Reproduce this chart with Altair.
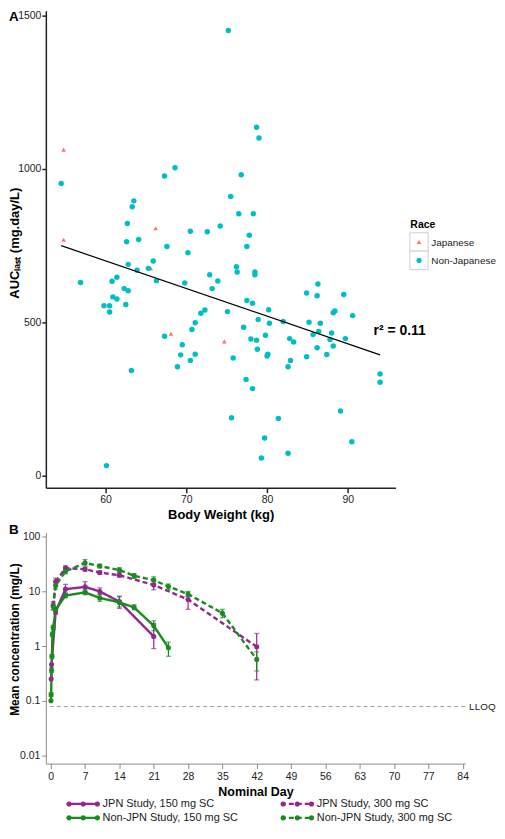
import altair as alt
import pandas as pd

# ---------------- Panel A data ----------------
race_labels = ["Japanese", "Non-Japanese"]
race_colors = ["#F8766D", "#00BFC4"]
race_shapes = ["triangle-up", "circle"]

jpn_weight = [54.8, 54.8, 66.2, 65.6, 68.1, 74.7]
jpn_auc = [1062, 768, 806, 675, 462, 437]

nonjpn_weight = [75.2, 54.5, 62.7, 62.6, 63.3, 63.5, 64.1, 62.8, 65.9, 67.3, 68.6, 67.6,
                 70.5, 70.2, 72.6, 74.2, 75.5, 76.8, 76.5, 78.3, 77.8, 77.5, 78.7, 79.0,
                 56.9, 59.8, 60.1, 60.8, 61.4, 60.9, 61.4, 60.5, 60.5, 62.3, 62.8, 62.5,
                 63.2, 63.9, 65.3, 66.3, 67.3, 69.5, 69.3, 68.9, 70.5, 70.7, 71.1, 71.1,
                 69.8, 71.8, 72.3, 72.9, 73.2, 73.9, 75.1, 75.8, 75.6, 76.2, 76.3, 77.4,
                 77.5, 78.2, 77.1, 78.0, 78.7, 78.8, 78.2, 78.5, 78.5, 78.9, 79.3, 79.7,
                 80.2, 80.3, 79.8, 80.1, 80.0, 82.0, 81.4, 82.6, 82.8, 83.3, 82.9, 82.6,
                 84.9, 86.3, 86.2, 85.2, 85.7, 86.6, 86.4, 86.2, 84.9, 87.4, 88.0, 87.8,
                 88.2, 88.2, 88.4, 89.5, 90.6, 89.7, 89.1, 90.5, 94.0, 94.0]
nonjpn_auc = [1450, 952, 821, 762, 876, 895, 769, 688, 699, 976, 1003, 746,
              796, 726, 794, 813, 909, 980, 853, 853, 783, 746, 1135, 1100,
              629, 553, 32, 633, 646, 582, 575, 553, 533, 609, 602, 557,
              342, 669, 675, 635, 454, 426, 393, 354, 375, 476, 498, 395,
              627, 529, 539, 654, 609, 634, 534, 383, 188, 680, 663, 313,
              570, 561, 483, 445, 441, 411, 283, 663, 654, 508, 57, 122,
              540, 496, 457, 395, 389, 502, 186, 72, 446, 435, 375, 354,
              595, 624, 586, 499, 459, 496, 469, 416, 387, 394, 464, 443,
              422, 530, 536, 590, 521, 446, 210, 110, 331, 304]

fit_intercept = 1240.2
fit_slope = -9.013
r2_label = "r\u00b2 = 0.11"

x_ticks_a = [60, 70, 80, 90]
y_ticks_a = [0, 500, 1000, 1500]

# ---------------- Panel B data ----------------
series_names = ["JPN Study, 150 mg SC", "JPN Study, 300 mg SC",
                "Non-JPN Study, 150 mg SC", "Non-JPN Study, 300 mg SC"]
series_colors = ["#93278F", "#93278F", "#1B8A22", "#1B8A22"]
series_dash = [[1, 0], [5, 3], [1, 0], [5, 3]]

days_jpn150 = [0.08, 0.17, 1, 3, 7, 10, 14, 21]
conc_jpn150 = [0.25, 0.46, 4.3, 11.0, 12.1, 10.0, 6.5, 1.5]
lo_jpn150 = [0.25, 0.46, 3.8, 9.3, 10.0, 8.7, 4.9, 0.9]
hi_jpn150 = [0.25, 0.46, 4.9, 13.5, 15.1, 11.6, 8.2, 2.6]

days_jpn300 = [0.5, 1, 3, 7, 10, 14, 21, 28, 42]
conc_jpn300 = [5.5, 15.1, 26.8, 25.5, 22.1, 19.8, 13.1, 7.1, 0.97]
lo_jpn300 = [4.6, 13.0, 24.5, 23.5, 20.5, 18.3, 10.7, 4.7, 0.24]
hi_jpn300 = [6.5, 17.5, 29.5, 27.7, 23.8, 21.5, 15.1, 8.2, 1.7]

days_njp150 = [0.04, 0.08, 0.17, 0.25, 0.33, 0.5, 1, 3, 7, 10, 14, 17, 21, 24]
conc_njp150 = [0.10, 0.13, 0.36, 0.65, 1.65, 2.2, 4.6, 8.4, 9.6, 7.6, 6.3, 5.1, 2.35, 0.93]
lo_njp150 = [0.10, 0.12, 0.33, 0.60, 1.5, 2.0, 4.0, 7.6, 8.7, 6.6, 5.2, 4.6, 1.9, 0.65]
hi_njp150 = [0.10, 0.14, 0.40, 0.70, 1.8, 2.4, 5.2, 9.2, 10.7, 8.7, 7.9, 5.7, 2.9, 1.18]

days_njp300 = [0.5, 1, 3, 7, 10, 14, 17, 21, 24, 28, 35, 42]
conc_njp300 = [5.3, 12.8, 23.3, 33.3, 29.1, 24.7, 19.3, 16.1, 12.3, 8.96, 4.0, 0.57]
lo_njp300 = [4.6, 11.0, 21.0, 29.1, 27.0, 22.1, 17.3, 14.1, 10.7, 8.0, 3.3, 0.35]
hi_njp300 = [6.1, 15.0, 26.0, 38.2, 31.5, 27.2, 21.2, 18.5, 13.7, 10.0, 4.7, 0.78]

lloq = 0.078
x_ticks_b = list(range(0, 85, 7))
y_ticks_b = [0.01, 0.1, 1, 10, 100]

FONT = "Liberation Sans"
DARK = "#222222"

# ================= Panel A =================
WA, HA = 351, 479
df_a = pd.DataFrame({
    "weight": jpn_weight + nonjpn_weight,
    "auc": jpn_auc + nonjpn_auc,
    "race": [race_labels[0]] * len(jpn_weight) + [race_labels[1]] * len(nonjpn_weight),
})
xa = alt.X("weight:Q", scale=alt.Scale(domain=[52.6, 95.9], nice=False, zero=False),
           axis=alt.Axis(values=x_ticks_a, title="Body Weight (kg)", grid=False, labelOverlap=False,
                         tickCount=10,
                         domainColor=DARK, domainWidth=1.5, tickColor=DARK, tickWidth=1.5,
                         tickSize=5, labelFontSize=10.5, labelColor=DARK, labelPadding=2,
                         titleFontSize=13, titleFontWeight="bold", titleColor="#000",
                         titlePadding=3))
ya = alt.Y("auc:Q", scale=alt.Scale(domain=[-40, 1515], nice=False, zero=False),
           axis=alt.Axis(values=y_ticks_a, format="d", title="AUC\u2097\u2090\u209b\u209c (mg.day/L)",
                         grid=False, labelOverlap=False, tickCount=10,
                         domainColor=DARK, domainWidth=1.5, tickColor=DARK, tickWidth=1.5,
                         tickSize=4, labelFontSize=10.5, labelColor=DARK, labelPadding=1,
                         titleFontSize=13, titleFontWeight="bold", titleColor="#000",
                         titleX=-31, titleY=233, titleAngle=270, titleBaseline="middle",
                         titleAlign="center"))

points_a = alt.Chart(df_a).mark_point(filled=True, opacity=1).encode(
    x=xa, y=ya,
    color=alt.Color("race:N", scale=alt.Scale(domain=race_labels, range=race_colors), legend=None),
    shape=alt.Shape("race:N", scale=alt.Scale(domain=race_labels, range=race_shapes), legend=None),
    size=alt.Size("race:N", scale=alt.Scale(domain=race_labels, range=[22, 30]), legend=None),
)

all_w = jpn_weight + nonjpn_weight
fit_x = [min(all_w), max(all_w)]
df_fit = pd.DataFrame({"weight": fit_x, "auc": [fit_intercept + fit_slope * w for w in fit_x]})
fit_line = alt.Chart(df_fit).mark_line(color="black", strokeWidth=1.2).encode(x="weight:Q", y="auc:Q")

dummy = pd.DataFrame({"d": [0]})
r2 = alt.Chart(dummy).mark_text(text=r2_label, fontSize=14, fontWeight="bold", align="left",
                                baseline="middle", color="#000").encode(
    x=alt.value(329), y=alt.value(322))
label_a = alt.Chart(dummy).mark_text(text="A", fontSize=13.5, fontWeight="bold", align="left",
                                     baseline="top", color="#000").encode(
    x=alt.value(-37), y=alt.value(-1))

# manual race legend
LX = 365.5
leg_title = alt.Chart(dummy).mark_text(text="Race", fontSize=10.5, fontWeight="bold", align="left",
                                       baseline="middle", color="#000").encode(
    x=alt.value(LX + 0.5), y=alt.value(215))
leg_layers = [leg_title]
for i, (lab, col, shp) in enumerate(zip(race_labels, race_colors, race_shapes)):
    top = 223 + i * 18.5
    leg_layers.append(alt.Chart(dummy).mark_rect(fill="white", stroke="#cfcfcf", strokeWidth=1).encode(
        x=alt.value(LX), x2=alt.value(LX + 18.4), y=alt.value(top), y2=alt.value(top + 18.5)))
    leg_layers.append(alt.Chart(dummy).mark_point(filled=True, opacity=1, shape=shp, color=col,
                                                  size=22 if i == 0 else 26).encode(
        x=alt.value(LX + 9.2), y=alt.value(top + 9.25)))
    leg_layers.append(alt.Chart(dummy).mark_text(text=lab, fontSize=10, align="left", baseline="middle",
                                                 color=DARK).encode(
        x=alt.value(LX + 21.5), y=alt.value(top + 10)))

panel_a = alt.layer(points_a, fit_line, r2, label_a, *leg_layers).properties(width=WA, height=HA)

# ================= Panel B =================
WB, HB = 421, 232
rows = []
for name, d, c, lo, hi in [
    (series_names[0], days_jpn150, conc_jpn150, lo_jpn150, hi_jpn150),
    (series_names[1], days_jpn300, conc_jpn300, lo_jpn300, hi_jpn300),
    (series_names[2], days_njp150, conc_njp150, lo_njp150, hi_njp150),
    (series_names[3], days_njp300, conc_njp300, lo_njp300, hi_njp300),
]:
    for dd, cc, l, h in zip(d, c, lo, hi):
        rows.append({"series": name, "day": dd, "conc": cc, "lo": l, "hi": h})
df_b = pd.DataFrame(rows)
df_err = df_b[df_b["hi"] > df_b["lo"]]

GREY = "#8a8a8a"
xb_scale = alt.Scale(domain=[-1, 84.5], nice=False, zero=False)
yb_scale = alt.Scale(type="log", domain=[0.00706, 119.7], nice=False)
xb = alt.X("day:Q", scale=xb_scale,
           axis=alt.Axis(values=x_ticks_b, title="Nominal Day", grid=False, labelOverlap=False,
                         tickCount=30,
                         domainColor=GREY, domainWidth=1, tickColor=GREY, tickSize=5,
                         labelFontSize=10.5, labelColor=DARK, labelPadding=3, titleFontSize=12.5,
                         titleFontWeight="bold", titleColor="#000", titlePadding=4))
yb = alt.Y("conc:Q", scale=yb_scale,
           axis=alt.Axis(values=y_ticks_b, format="~g", title="Mean concentration (mg/L)", grid=False,
                         labelOverlap=False, tickCount=10, domainColor=GREY, domainWidth=1,
                         tickColor=GREY, tickSize=4, labelFontSize=10.5, labelColor=DARK,
                         labelPadding=2, titleFontSize=12, titleFontWeight="bold", titleColor="#000",
                         titleX=-31, titleY=107, titleAngle=270, titleBaseline="middle",
                         titleAlign="center"))
color_b = alt.Color("series:N", scale=alt.Scale(domain=series_names, range=series_colors), legend=None)
dash_b = alt.StrokeDash("series:N", scale=alt.Scale(domain=series_names, range=series_dash), legend=None)

lines_b = alt.Chart(df_b).mark_line(strokeWidth=2.4).encode(
    x=xb, y=yb, color=color_b, strokeDash=dash_b, detail="series:N")
pts_b = alt.Chart(df_b).mark_circle(size=26, opacity=1).encode(x="day:Q", y="conc:Q", color=color_b)
err_rule = alt.Chart(df_err).mark_rule(strokeWidth=1.2).encode(
    x="day:Q", y="lo:Q", y2="hi:Q", color=color_b)
err_lo = alt.Chart(df_err).mark_tick(orient="horizontal", size=5, thickness=1.2).encode(
    x="day:Q", y="lo:Q", color=color_b)
err_hi = alt.Chart(df_err).mark_tick(orient="horizontal", size=5, thickness=1.2).encode(
    x="day:Q", y="hi:Q", color=color_b)

df_lloq = pd.DataFrame({"lloq": [lloq]})
lloq_rule = alt.Chart(df_lloq).mark_rule(color="#9a9a9a", strokeWidth=1, strokeDash=[4, 3]).encode(
    y="lloq:Q")
lloq_text = alt.Chart(df_lloq).mark_text(text="LLOQ", fontSize=10, align="left", baseline="middle",
                                         color=DARK).encode(x=alt.value(WB + 4), y="lloq:Q")
label_b = alt.Chart(dummy).mark_text(text="B", fontSize=13.5, fontWeight="bold", align="left",
                                     baseline="middle", color="#000").encode(
    x=alt.value(-37), y=alt.value(-3))

# manual series legend
leg_b = []
for i, (name, col, dash) in enumerate(zip(series_names, series_colors, series_dash)):
    c_i, r_i = i % 2, i // 2
    x0 = 21 + c_i * 215
    yr = 272.5 + r_i * 14
    leg_b.append(alt.Chart(dummy).mark_rule(color=col, strokeWidth=2.4, strokeDash=dash).encode(
        x=alt.value(x0), x2=alt.value(x0 + 33), y=alt.value(yr)))
    for k in range(3):
        leg_b.append(alt.Chart(dummy).mark_circle(color=col, size=26, opacity=1).encode(
            x=alt.value(x0 + 2.3 + 14.2 * k), y=alt.value(yr)))
    leg_b.append(alt.Chart(dummy).mark_text(text=name, fontSize=11, align="left", baseline="middle",
                                            color=DARK).encode(
        x=alt.value(x0 + 36), y=alt.value(yr)))

panel_b = alt.layer(lloq_rule, lines_b, err_rule, err_lo, err_hi, pts_b, lloq_text, label_b,
                    *leg_b).properties(width=WB, height=HB)

chart = alt.vconcat(panel_a, panel_b, spacing=45, bounds="flush").resolve_scale(
    color="independent", shape="independent", size="independent", strokeDash="independent"
).properties(padding=0).configure(font=FONT, padding=0).configure_view(strokeWidth=0)

chart.save("out.html", embed_options={"renderer": "svg", "actions": False})
